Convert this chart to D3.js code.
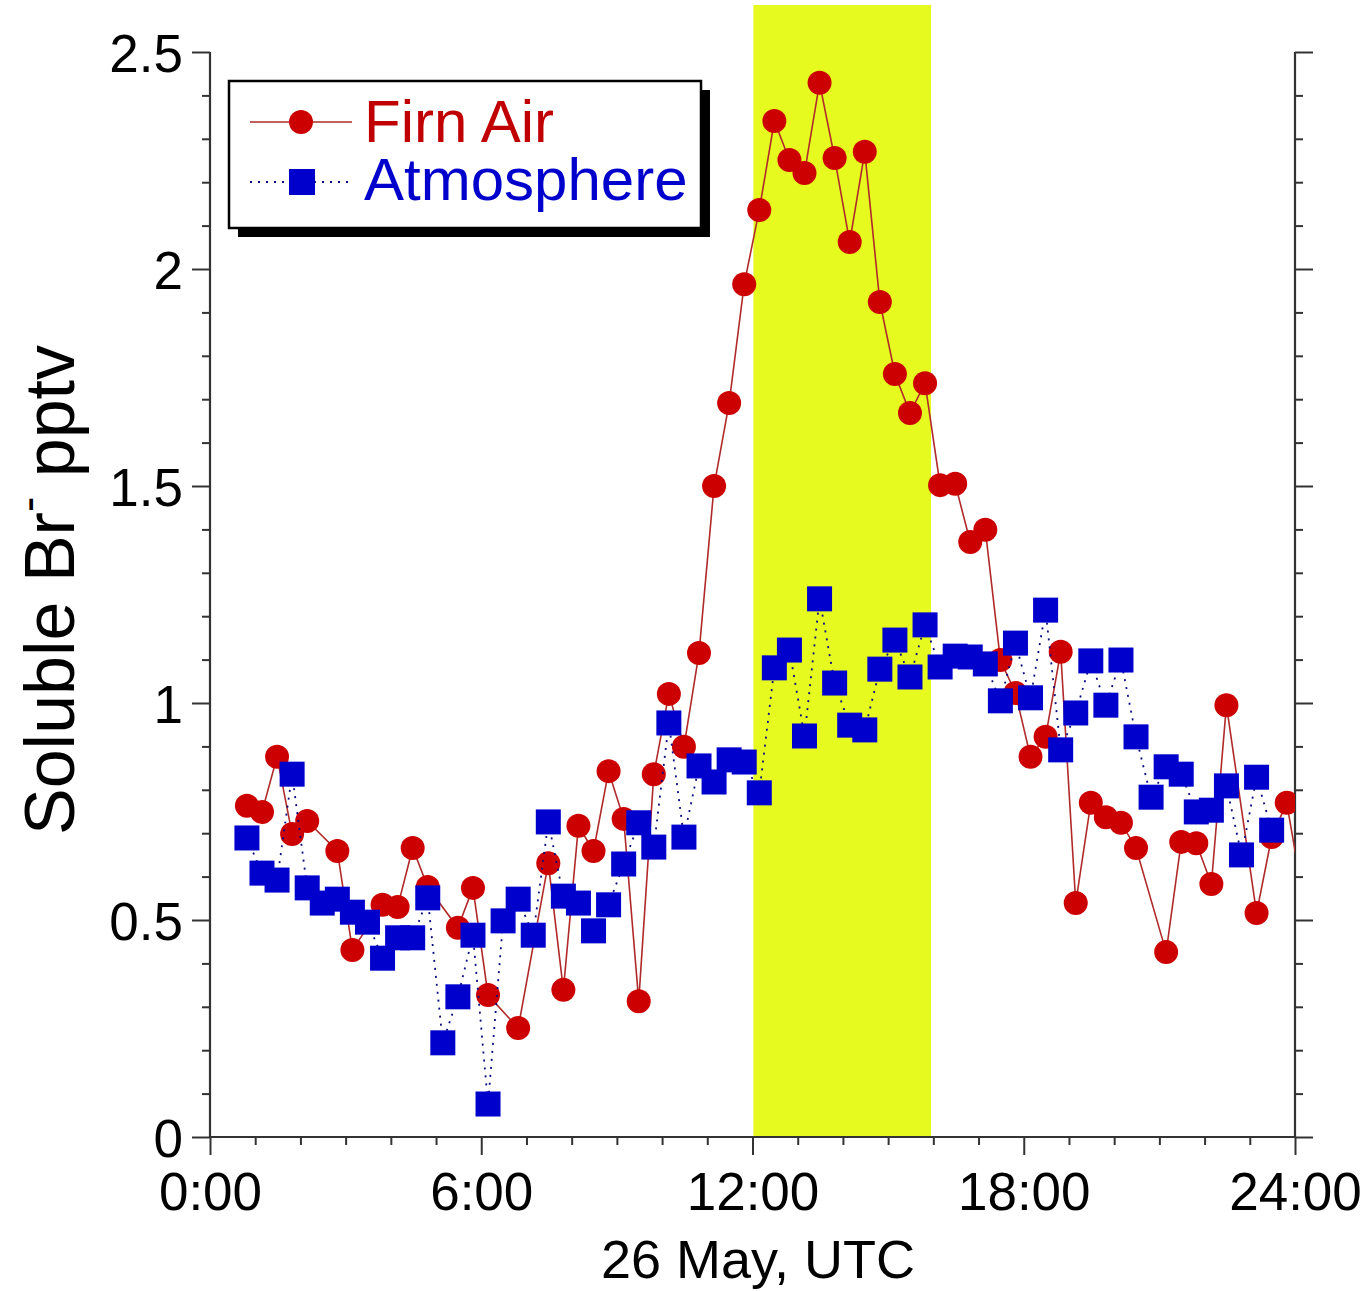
<!DOCTYPE html>
<html>
<head>
<meta charset="utf-8">
<script src="https://cdn.jsdelivr.net/npm/d3@7/dist/d3.min.js"></script>
<style>
  body { margin: 0; background: #fff; }
  text { font-family: "Liberation Sans", Arial, sans-serif; }
</style>
</head>
<body>
<script>
// Atmosphere samples (20 min resolution)
const atmTimes = ['0:49','1:09','1:29','1:49','2:09','2:29','2:49','3:09','3:29','3:49','4:09','4:29','4:49','5:09','5:29','5:49','6:09','6:29','6:49','7:09','7:29','7:49','8:09','8:29','8:49','9:09','9:29','9:49','10:09','10:29','10:49','11:09','11:29','11:49','12:09','12:29','12:49','13:09','13:29','13:49','14:09','14:29','14:49','15:09','15:29','15:49','16:09','16:29','16:49','17:09','17:29','17:49','18:09','18:29','18:49','19:09','19:29','19:49','20:09','20:29','20:49','21:09','21:29','21:49','22:09','22:29','22:49','23:09','23:29'];
const atmValues = [0.689,0.608,0.592,0.836,0.574,0.539,0.548,0.518,0.495,0.412,0.459,0.459,0.551,0.217,0.323,0.465,0.076,0.498,0.548,0.465,0.726,0.555,0.539,0.475,0.535,0.629,0.724,0.668,0.954,0.691,0.855,0.818,0.869,0.864,0.793,1.081,1.122,0.924,1.240,1.046,0.949,0.938,1.078,1.145,1.060,1.180,1.083,1.108,1.106,1.090,1.005,1.138,1.012,1.214,0.892,0.977,1.097,0.995,1.099,0.922,0.783,0.853,0.836,0.749,0.753,0.809,0.650,0.829,0.707];

// Firn air samples (some gaps)
const firnTimes = ['0:49','1:09','1:29','1:49','2:09','2:49','3:09','3:49','4:09','4:29','4:49','5:29','5:49','6:09','6:49','7:29','7:49','8:09','8:29','8:49','9:09','9:29','9:49','10:09','10:29','10:49','11:09','11:29','11:49','12:09','12:29','12:49','13:09','13:29','13:49','14:09','14:29','14:49','15:09','15:29','15:49','16:09','16:29','16:49','17:09','17:29','17:49','18:09','18:29','18:49','19:09','19:29','19:49','20:09','20:29','21:09','21:29','21:49','22:09','22:29','23:09','23:29','23:49','24:09'];
const firnValues = [0.763,0.749,0.876,0.698,0.728,0.659,0.431,0.535,0.530,0.666,0.576,0.482,0.574,0.327,0.251,0.631,0.339,0.717,0.659,0.843,0.733,0.313,0.836,1.021,0.899,1.115,1.500,1.691,1.965,2.136,2.341,2.251,2.221,2.429,2.256,2.062,2.270,1.924,1.758,1.668,1.737,1.502,1.505,1.371,1.399,1.099,1.023,0.876,0.922,1.118,0.539,0.770,0.737,0.724,0.666,0.426,0.680,0.677,0.583,0.995,0.516,0.691,0.770,0.570];

// Shaded period (hours)
const bandHours = [12.02, 15.95];

const xTicks = [0, 6, 12, 18, 24];
const yTicks = [0, 0.5, 1, 1.5, 2, 2.5];
const seriesNames = ['Firn Air', 'Atmosphere'];

const W = 1372, H = 1291;
const margin = { left: 210, right: 77, top: 52, bottom: 154 };

const toHours = s => { const [h, m] = s.split(':').map(Number); return h + m / 60; };
const atm = atmTimes.map((t, i) => ({ t: toHours(t), v: atmValues[i] }));
const firn = firnTimes.map((t, i) => ({ t: toHours(t), v: firnValues[i] }));

const svg = d3.select('body').append('svg')
  .attr('width', W)
  .attr('height', H);

const x = d3.scaleLinear().domain([0, 24]).range([margin.left, W - margin.right]);
const y = d3.scaleLinear().domain([0, 2.5]).range([H - margin.bottom, margin.top]);

svg.append('defs').append('clipPath').attr('id', 'plot-clip')
  .append('rect')
  .attr('x', x(0)).attr('y', 0)
  .attr('width', x(24) - x(0)).attr('height', y(0));

// yellow band, runs above the plot top
svg.append('rect')
  .attr('x', x(bandHours[0]))
  .attr('y', 5)
  .attr('width', x(bandHours[1]) - x(bandHours[0]))
  .attr('height', y(0) - 5)
  .attr('fill', '#e6fa20');

// axes
const axisColor = '#333';
const isMajorY = d => yTicks.some(t => Math.abs(t - d) < 1e-6);

const gx = svg.append('g').attr('transform', `translate(0,${y(0)})`)
  .call(d3.axisBottom(x).tickValues(d3.range(0, 25, 1)).tickSize(8).tickFormat(''));
gx.call(g => g.selectAll('.tick line').filter(d => d % 6 === 0).attr('y2', 18));
gx.selectAll('.tick').filter(d => xTicks.includes(d)).append('text')
  .attr('y', 73).attr('fill', '#000')
  .attr('font-size', 53).attr('text-anchor', 'middle')
  .text(d => `${d}:00`);

const gy = svg.append('g').attr('transform', `translate(${x(0)},0)`)
  .call(d3.axisLeft(y).tickValues(d3.range(0, 26).map(i => i / 10)).tickSize(8).tickFormat(''));
gy.call(g => g.selectAll('.tick line').filter(isMajorY).attr('x2', -18));
gy.selectAll('.tick').filter(isMajorY).append('text')
  .attr('x', -27).attr('dy', '0.36em').attr('fill', '#000')
  .attr('font-size', 53).attr('text-anchor', 'end')
  .text(d => d3.format('')(d));

const gr = svg.append('g').attr('transform', `translate(${x(24)},0)`)
  .call(d3.axisRight(y).tickValues(d3.range(0, 26).map(i => i / 10)).tickSize(8).tickFormat(''));
gr.call(g => g.selectAll('.tick line').filter(isMajorY).attr('x2', 18));

[gx, gy, gr].forEach(g => {
  g.select('.domain').attr('stroke', axisColor).attr('stroke-width', 2.2);
  g.selectAll('.tick line').attr('stroke', axisColor).attr('stroke-width', 2);
});
gx.select('.domain').attr('d', `M${x(0)},0H${x(24)}`);
gy.select('.domain').attr('d', `M0,${y(0)}V${y(2.5)}`);
gr.select('.domain').attr('d', `M0,${y(0)}V${y(2.5)}`);

// axis titles
svg.append('text')
  .attr('x', 758).attr('y', 1278)
  .attr('font-size', 54).attr('text-anchor', 'middle')
  .text('26 May, UTC');

const yTitle = svg.append('text')
  .attr('transform', 'translate(74,590) rotate(-90)')
  .attr('font-size', 70).attr('text-anchor', 'middle');
yTitle.append('tspan').text('Soluble Br');
yTitle.append('tspan').attr('font-size', 46).attr('dy', -30).text('-');
yTitle.append('tspan').attr('dy', 30).text(' pptv');

// series
const plot = svg.append('g').attr('clip-path', 'url(#plot-clip)');
const line = d3.line().x(d => x(d.t)).y(d => y(d.v));

plot.append('path').datum(firn)
  .attr('d', line).attr('fill', 'none')
  .attr('stroke', '#b02a2a').attr('stroke-width', 1.6);
plot.selectAll('circle.firn').data(firn.filter(d => d.t <= 24)).join('circle')
  .attr('class', 'firn')
  .attr('cx', d => x(d.t)).attr('cy', d => y(d.v))
  .attr('r', 12).attr('fill', '#cc0000');

plot.append('path').datum(atm)
  .attr('d', line).attr('fill', 'none')
  .attr('stroke', '#0a0a80').attr('stroke-width', 1.8)
  .attr('stroke-dasharray', '2,6');
const sq = 25;
plot.selectAll('rect.atm').data(atm).join('rect')
  .attr('class', 'atm')
  .attr('x', d => x(d.t) - sq / 2).attr('y', d => y(d.v) - sq / 2)
  .attr('width', sq).attr('height', sq)
  .attr('fill', '#0000cc');

// legend
const lg = svg.append('g');
lg.append('rect').attr('x', 238).attr('y', 90).attr('width', 472).attr('height', 147).attr('fill', '#000');
lg.append('rect').attr('x', 229).attr('y', 81).attr('width', 472).attr('height', 147)
  .attr('fill', '#fff').attr('stroke', '#000').attr('stroke-width', 2.5);

lg.append('line').attr('x1', 250).attr('x2', 352).attr('y1', 122).attr('y2', 122)
  .attr('stroke', '#b02a2a').attr('stroke-width', 1.6);
lg.append('circle').attr('cx', 301).attr('cy', 122).attr('r', 12).attr('fill', '#cc0000');
lg.append('text').attr('x', 364).attr('y', 142).attr('font-size', 60)
  .attr('fill', '#c00000').text(seriesNames[0]);

lg.append('line').attr('x1', 250).attr('x2', 352).attr('y1', 182).attr('y2', 182)
  .attr('stroke', '#0a0a80').attr('stroke-width', 1.8).attr('stroke-dasharray', '2,6');
lg.append('rect').attr('x', 289).attr('y', 169).attr('width', 26).attr('height', 26).attr('fill', '#0000cc');
lg.append('text').attr('x', 364).attr('y', 200).attr('font-size', 60)
  .attr('fill', '#0000cc').text(seriesNames[1]);
</script>
</body>
</html>
